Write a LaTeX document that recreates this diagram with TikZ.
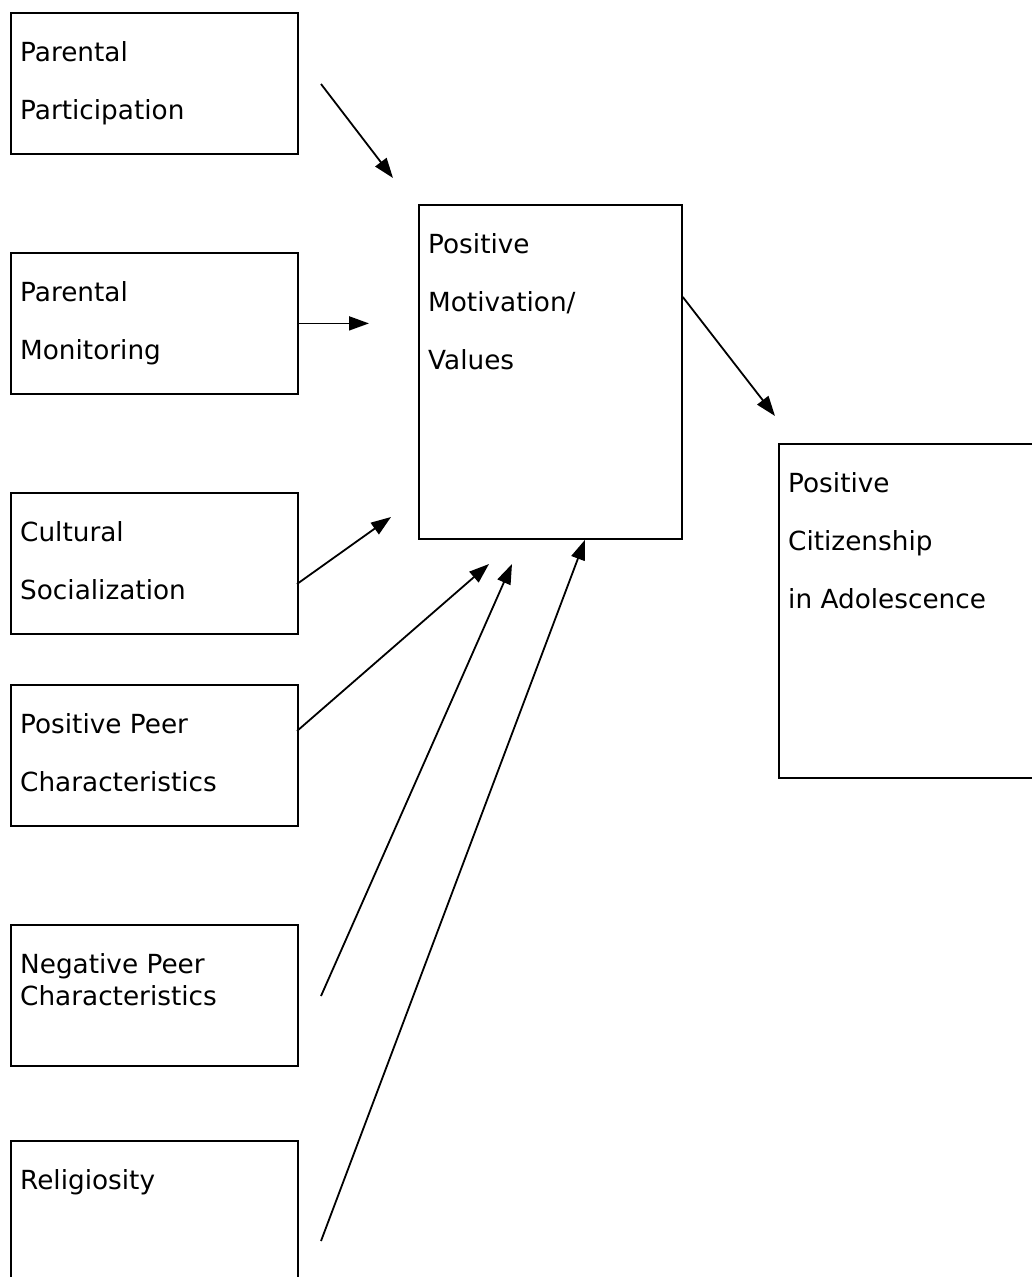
\documentclass[tikz,border=0pt]{standalone}
\usepackage{fontspec}
\setmainfont{DejaVu Sans}
\usetikzlibrary{arrows.meta}
\begin{document}
\begin{tikzpicture}[
  x=1pt, y=-1pt,
  box/.style={rectangle, draw, line width=1.8pt, anchor=north west, inner sep=0pt},
  smallbox/.style={box, minimum width=287pt, minimum height=141pt},
  bigbox/.style={box, minimum width=263pt, minimum height=334pt},
  txt/.style={anchor=north west, align=left, inner sep=0pt, font=\fontsize{26.3}{58}\selectfont},
  tight/.style={font=\fontsize{26.3}{32}\selectfont},
  link/.style={line width=1.8pt, -{Triangle[length=20pt,width=14pt]}}
]
\useasboundingbox (0,0) rectangle (1031,1277);

% factors on the left
\node[smallbox] (pp) at (10,12) {};
\node[smallbox] (pm) at (10,252) {};
\node[smallbox] (cs) at (10,492) {};
\node[smallbox] (ppc) at (10,684) {};
\node[smallbox] (npc) at (10,924) {};
\node[smallbox] (rel) at (10,1140) {};

% mediator and outcome
\node[bigbox] (pmv) at (418,204) {};
\node[bigbox] (pca) at (778,443) {};

\node[txt] (pp_t) at ([shift={(10,29)}]pp.north west) {Parental\\Participation};
\node[txt] (pm_t) at ([shift={(10,29)}]pm.north west) {Parental\\Monitoring};
\node[txt] (cs_t) at ([shift={(10,29)}]cs.north west) {Cultural\\Socialization};
\node[txt] (ppc_t) at ([shift={(10,29)}]ppc.north west) {Positive Peer\\Characteristics};
\node[txt, tight] (npc_t) at ([shift={(10,29)}]npc.north west) {Negative Peer\\Characteristics};
\node[txt] (rel_t) at ([shift={(10,29)}]rel.north west) {Religiosity};
\node[txt] (pmv_t) at ([shift={(10,29)}]pmv.north west) {Positive\\Motivation/\\Values};
\node[txt] (pca_t) at ([shift={(10,29)}]pca.north west) {Positive\\Citizenship\\in Adolescence};

% free ends of the arrows
\coordinate (pp_a) at (321,84);
\coordinate (pp_b) at (393,178);
\coordinate (pm_b) at (369,322);
\coordinate (cs_a) at (297,584);
\coordinate (cs_b) at (391,517);
\coordinate (ppc_a) at (297,731);
\coordinate (ppc_b) at (489,564);
\coordinate (npc_a) at (321,996);
\coordinate (npc_b) at (512,564);
\coordinate (rel_a) at (321,1241);
\coordinate (pca_b) at (775,416);

\draw[link] (pp_a) -- (pp_b);
\draw[link] (pm.east) -- (pm.east -| pm_b);
\draw[link] (cs_a) -- (cs_b);
\draw[link] (ppc_a) -- (ppc_b);
\draw[link] (npc_a) -- (npc_b);
\draw[link] (rel_a) -- ([xshift=167pt]pmv.south west);
\draw[link] ([yshift=-93pt]pmv.north east) -- (pca_b);
\end{tikzpicture}
\end{document}
